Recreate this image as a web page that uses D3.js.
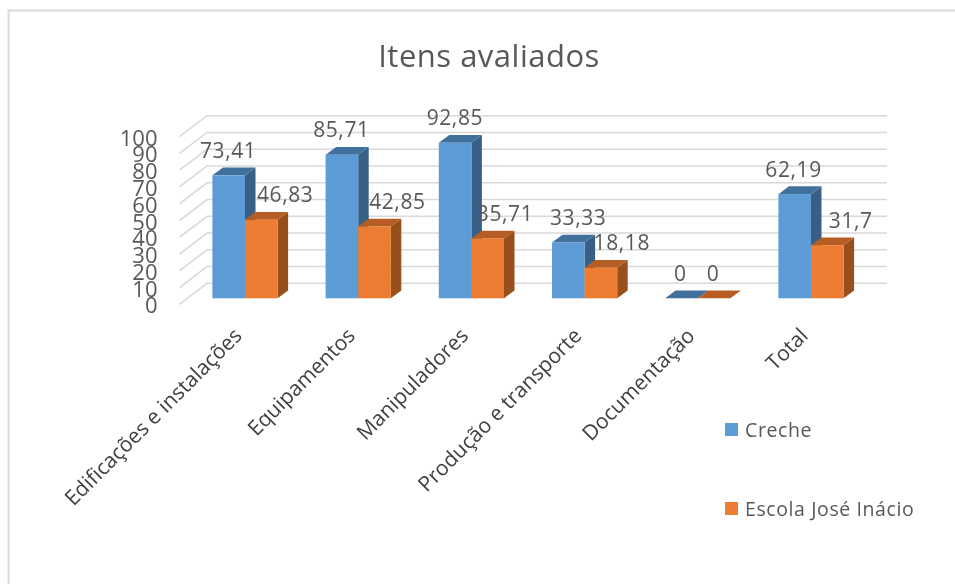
<!DOCTYPE html>
<html><head><meta charset="utf-8">
<script src="https://cdn.jsdelivr.net/npm/d3@7"></script>
<style>html,body{margin:0;padding:0;background:#fff}svg{display:block}text{font-family:"Open Sans",sans-serif;fill:#595959}</style>
</head><body><svg id="c" width="955" height="584"></svg>
<script>
const categories=["Edificações e instalações","Equipamentos","Manipuladores","Produção e transporte","Documentação","Total"];
const seriesNames=["Creche","Escola José Inácio"];
const creche=[73.41,85.71,92.85,33.33,0,62.19];
const escola=[46.83,42.85,35.71,18.18,0,31.7];
const crecheLabels=["73,41","85,71","92,85","33,33","0","62,19"];
const escolaLabels=["46,83","42,85","35,71","18,18","0","31,7"];
const yTicks=[0,10,20,30,40,50,60,70,80,90,100];
const colors=[{front:"#5b9bd5",top:"#41719c",side:"#376087"},{front:"#ed7d31",top:"#b55d22",side:"#974f1b"}];

const svg=d3.select("#c");
const defs=svg.append("defs");
defs.append("filter").attr("id","soft").attr("x","-5%").attr("y","-5%").attr("width","110%").attr("height","110%")
  .append("feGaussianBlur").attr("stdDeviation",0.5);
const g=svg.append("g").attr("filter","url(#soft)");

// chart frame
g.append("path").attr("d","M8.5,590V10.5H960").attr("fill","none").attr("stroke","#d9d9d9").attr("stroke-width",2);

// scales
const x=d3.scaleBand().domain(categories).range([188.6,867.8]);
const yFront=d3.scaleLinear().domain([0,100]).range([298.3,130.8]);
const yBack=d3.scaleLinear().domain([0,100]).range([283.3,115.7]);
const yWall=d3.scaleLinear().domain([0,100]).range([304.3,136.7]);
const wallL=179.5,wallB=207,wallR=887;
const mid=c=>x(c)+x.bandwidth()/2;

// gridlines
yTicks.forEach(t=>{
  g.append("path").attr("d",`M${wallL},${yWall(t)}L${wallB},${yBack(t)}L${wallR},${yBack(t)}`)
   .attr("fill","none").attr("stroke","#d9d9d9").attr("stroke-width",1.6);
});
// y labels
g.selectAll(".yl").data(yTicks).join("text").attr("class","yl")
 .attr("x",157.5).attr("y",d=>yWall(d)+9).attr("text-anchor","end")
 .attr("font-size",22).text(d=>d);

// bars
const bw=32.6,dx=10.5,dy=7.8;
function bar(sel,i,vals){
  vals.forEach((v,k)=>{
    const x0=mid(categories[k])-bw+i*bw-0.2, x1=x0+bw, yt=yFront(v), yb=yFront(0);
    const c=colors[i];
    sel.append("path").attr("d",`M${x1},${yt}L${x1+dx},${yt-dy}L${x1+dx},${yb-dy}L${x1},${yb}Z`).attr("fill",c.side);
    sel.append("path").attr("d",`M${x0},${yt}L${x0+dx},${yt-dy}L${x1+dx},${yt-dy}L${x1},${yt}Z`).attr("fill",c.top);
    sel.append("rect").attr("x",x0).attr("y",yt).attr("width",bw).attr("height",yb-yt).attr("fill",c.front);
  });
}
const bars=g.append("g");
bar(bars,0,creche);
bar(bars,1,escola);

// data labels
const crecheNudge=[-17,-17,-16.7,-6.6,-17.7,-17.6];
const escolaNudge=[40,39,33.5,37,15,39.6];
function labels(i,vals,txt,nudge){
  g.selectAll(".dl"+i).data(vals).join("text").attr("class","dl"+i)
   .attr("x",(d,k)=>mid(categories[k])+nudge[k])
   .attr("y",d=>yFront(d)-17.5)
   .attr("text-anchor","middle").attr("font-size",21).attr("letter-spacing",0.6)
   .text((d,k)=>txt[k]);
}
labels(0,creche,crecheLabels,crecheNudge);
labels(1,escola,escolaLabels,escolaNudge);

// category labels
g.selectAll(".cl").data(categories).join("text").attr("class","cl")
 .attr("transform",d=>`translate(${mid(d)-2},337) rotate(-45)`)
 .attr("text-anchor","end").attr("font-size",21).style("fill","#404040").text(d=>d);

// title
g.append("text").attr("x",489).attr("y",67).attr("text-anchor","middle").attr("font-size",31).attr("letter-spacing",0.5).text("Itens avaliados");

// legend
const legY=[429.5,508.5];
seriesNames.forEach((n,i)=>{
  g.append("rect").attr("x",725).attr("y",legY[i]-6.5).attr("width",13).attr("height",13).attr("fill",colors[i].front);
  g.append("text").attr("x",745).attr("y",legY[i]+7).attr("font-size",19.5).attr("letter-spacing",0.6).text(n);
});
</script></body></html>
